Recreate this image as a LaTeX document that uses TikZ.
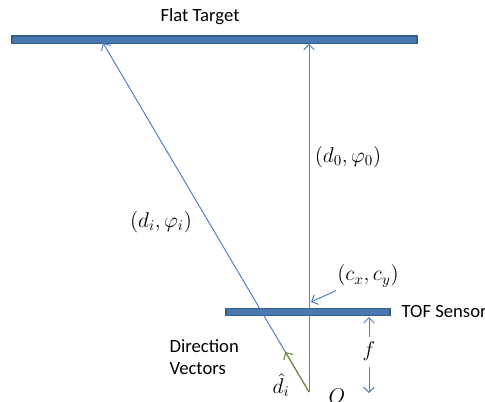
\RequirePackage{fix-cm}
\documentclass[tikz,border=0pt]{standalone}
\usepackage{fontspec}
\setmainfont{Carlito}
\usetikzlibrary{arrows.meta,calc}
\definecolor{lineblue}{RGB}{79,129,189}
\definecolor{barblue}{RGB}{56,93,138}
\definecolor{vecgreen}{RGB}{118,146,60}
\tikzset{
  bar/.style={draw=barblue, fill=lineblue!75!barblue, line width=1pt, inner sep=0pt, minimum height=5.5pt},
  ray/.style={draw=lineblue, line width=0.75pt, -{Straight Barb[length=4pt,width=8pt]}},
  lbl/.style={font=\fontsize{14}{16}\selectfont, inner sep=1pt},
  mlbl/.style={font=\fontsize{16}{18}\selectfont, inner sep=1pt}
}
\begin{document}
\begin{tikzpicture}[x=0.75pt,y=-0.75pt]
        \useasboundingbox (0,0) rectangle (485,401);
        % target
        \node[bar, minimum width=303.75pt] (target) at (214.5,39.5) {};
        \node[lbl] (targetlbl) at (200,17) {Flat Target};
        % sensor
        \node[bar, minimum width=123pt] (sensor) at (308,312) {};
        \node[lbl, anchor=west] (sensorlbl) at (400,312) {TOF Sensor};
        % rays from O
        \coordinate (O) at (309,392);
        \coordinate (hit) at (103,43);
        \coordinate (c) at (311,302);
        \draw[ray] (O) -- (O |- target.south);
        \draw[ray] (O) -- (hit);
        \draw[vecgreen, line width=0.9pt, -{Straight Barb[length=4pt,width=8pt]}] (O) -- ($(O)!0.115!(hit)$);
        \node[mlbl] (d0) at (348,157) {$(d_0,\varphi_0)$};
        \node[mlbl] (di) at (161,222) {$(d_i,\varphi_i)$};
        \node[mlbl] (dhat) at (281,385) {$\hat{d}_i$};
        \node[mlbl] (Olbl) at (337,396) {$O$};
        % principal point
        \node[mlbl] (cxy) at (368,276) {$(c_x,c_y)$};
        \draw[ray] (cxy.south west) ++(0,2) -- (c);
        % focal length
        \node[mlbl] (f) at (369,351) {$f$};
        \draw[ray] (f.north) ++(0,-3) -- (369,317);
        \draw[ray] (f.south) ++(0,5) -- (369,393);
        \node[lbl, align=left, anchor=west] (dirlbl) at (168,357) {Direction\\Vectors};
    \end{tikzpicture}
\end{document}
